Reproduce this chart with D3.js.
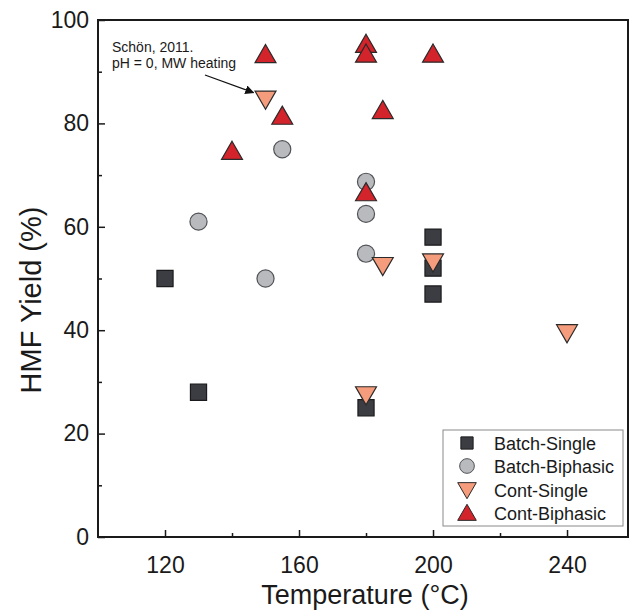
<!DOCTYPE html>
<html>
<head>
<meta charset="utf-8">
<script src="https://cdn.jsdelivr.net/npm/d3@7"></script>
<style>
  body { margin: 0; background: #fff; }
  svg { font-family: "Liberation Sans", Arial, sans-serif; }
</style>
</head>
<body>
<div id="chart"></div>
<script>
// series data: [temperature °C, HMF yield %]
const batchSingle = [[120, 50], [130, 28], [180, 25], [200, 58], [200, 52], [200, 47]];
const batchBiphasic = [[130, 61], [150, 50], [155, 75], [180, 68.7], [180, 62.5], [180, 54.8]];
const contSingle = [[150, 84.8], [185, 52.6], [180, 27.6], [200, 53.3], [240, 39.6]];
const contBiphasic = [[150, 93.2], [155, 81.3], [140, 74.5], [180, 95.2], [180, 93.3], [185, 82.4], [200, 93.3], [180, 66.5]];

const xTicks = [120, 160, 200, 240];
const xMinor = [140, 180, 220];
const yTicks = [0, 20, 40, 60, 80, 100];
const yMinor = [10, 30, 50, 70, 90];

const seriesNames = ["Batch-Single", "Batch-Biphasic", "Cont-Single", "Cont-Biphasic"];

////////////////////////////////////////////////////////////////////////////////////

const width = 630, height = 612;
const plotLeft = 98, plotRight = 628, plotTop = 20, plotBottom = 537;

const svg = d3.select("#chart").append("svg")
  .attr("width", width)
  .attr("height", height);

const x = d3.scaleLinear().domain([100, 258.2]).range([plotLeft, plotRight]);
const y = d3.scaleLinear().domain([0, 100]).range([plotBottom, plotTop]);

// frame
svg.append("rect")
  .attr("x", plotLeft).attr("y", plotTop)
  .attr("width", plotRight - plotLeft).attr("height", plotBottom - plotTop)
  .attr("fill", "none").attr("stroke", "#1a1a1a").attr("stroke-width", 2);

// axes with inward ticks
const xAxis = svg.append("g").attr("transform", `translate(0,${plotBottom})`)
  .call(d3.axisBottom(x).tickValues(xTicks).tickSize(-7).tickPadding(20));
const xAxisMinor = svg.append("g").attr("transform", `translate(0,${plotBottom})`)
  .call(d3.axisBottom(x).tickValues(xMinor).tickSize(-4).tickFormat(""));
const yAxis = svg.append("g").attr("transform", `translate(${plotLeft},0)`)
  .call(d3.axisLeft(y).tickValues(yTicks).tickSize(-7).tickPadding(9));
const yAxisMinor = svg.append("g").attr("transform", `translate(${plotLeft},0)`)
  .call(d3.axisLeft(y).tickValues(yMinor).tickSize(-4).tickFormat(""));

[xAxis, xAxisMinor, yAxis, yAxisMinor].forEach((g) => {
  g.select(".domain").remove();
  g.selectAll(".tick line").attr("stroke", "#1a1a1a").attr("stroke-width", 1.5);
  g.selectAll(".tick text").attr("fill", "#1a1a1a").style("font-size", "23px");
});

// axis titles
svg.append("text")
  .attr("x", 365).attr("y", 604)
  .attr("text-anchor", "middle")
  .style("font-size", "27px").attr("fill", "#1a1a1a")
  .text("Temperature (°C)");

svg.append("text")
  .attr("transform", "translate(41,300) rotate(-90)")
  .attr("text-anchor", "middle")
  .style("font-size", "29px").attr("fill", "#1a1a1a")
  .text("HMF Yield (%)");

////////////////////////////////////////////////////////////////////////////////////

const styles = {
  "Batch-Single": { symbol: d3.symbolSquare, size: 260, fill: "#3c3d42", stroke: "#1b1b1d", rot: 0 },
  "Batch-Biphasic": { symbol: d3.symbolCircle, size: 230, fill: "#b8babe", stroke: "#505256", rot: 0 },
  "Cont-Single": { symbol: d3.symbolTriangle, size: 190, fill: "#f59c7c", stroke: "#2a2a2a", rot: 180 },
  "Cont-Biphasic": { symbol: d3.symbolTriangle, size: 190, fill: "#d3232b", stroke: "#2a2a2a", rot: 0 }
};

const seriesData = [batchSingle, batchBiphasic, contSingle, contBiphasic];

const plot = svg.append("g");

seriesData.forEach((pts, i) => {
  const st = styles[seriesNames[i]];
  plot.append("g")
    .selectAll("path")
    .data(pts)
    .enter()
    .append("path")
    .attr("d", d3.symbol().type(st.symbol).size(st.size))
    .attr("transform", (d) => {
      // shift triangles so the bounding box is centred on the point
      const dy = st.symbol === d3.symbolTriangle ? (st.rot ? -1.5 : 1.5) : 0;
      return `translate(${x(d[0])},${y(d[1]) + dy}) rotate(${st.rot})`;
    })
    .attr("fill", st.fill)
    .attr("stroke", st.stroke)
    .attr("stroke-width", 1.2);
});

////////////////////////////////////////////////////////////////////////////////////

// annotation
svg.append("defs").append("marker")
  .attr("id", "arrow")
  .attr("viewBox", "0 0 10 10")
  .attr("refX", 9).attr("refY", 5)
  .attr("markerWidth", 7).attr("markerHeight", 7)
  .attr("orient", "auto")
  .append("path")
  .attr("d", "M0,0L10,5L0,10z")
  .attr("fill", "#111");

const note = svg.append("text")
  .attr("x", 112).attr("y", 52)
  .style("font-size", "14px").attr("fill", "#1a1a1a");
note.append("tspan").attr("x", 112).attr("dy", 0).text("Schön, 2011.");
note.append("tspan").attr("x", 112).attr("dy", 16).text("pH = 0, MW heating");

svg.append("line")
  .attr("x1", 205).attr("y1", 75)
  .attr("x2", x(150) - 12).attr("y2", y(84.8) - 6)
  .attr("stroke", "#111").attr("stroke-width", 1.3)
  .attr("marker-end", "url(#arrow)");

// legend
const legend = svg.append("g");
legend.append("rect")
  .attr("x", 443).attr("y", 430)
  .attr("width", 180).attr("height", 96)
  .attr("fill", "#fff").attr("stroke", "#8a8a8a").attr("stroke-width", 1);

const legendRows = [443, 466, 490, 513];
const legendSize = { "Batch-Single": 150, "Batch-Biphasic": 170, "Cont-Single": 150, "Cont-Biphasic": 150 };

seriesNames.forEach((name, i) => {
  const st = styles[name];
  const row = legend.append("g").attr("transform", `translate(467,${legendRows[i]})`);
  const dy = st.symbol === d3.symbolTriangle ? (st.rot ? -2 : 2) : 0;
  row.append("path")
    .attr("d", d3.symbol().type(st.symbol).size(legendSize[name]))
    .attr("transform", `translate(0,${dy}) rotate(${st.rot})`)
    .attr("fill", st.fill)
    .attr("stroke", st.stroke)
    .attr("stroke-width", 1);
  row.append("text")
    .attr("x", 27).attr("y", 6.5)
    .style("font-size", "18px").attr("fill", "#1a1a1a")
    .text(name);
});
</script>
</body>
</html>
